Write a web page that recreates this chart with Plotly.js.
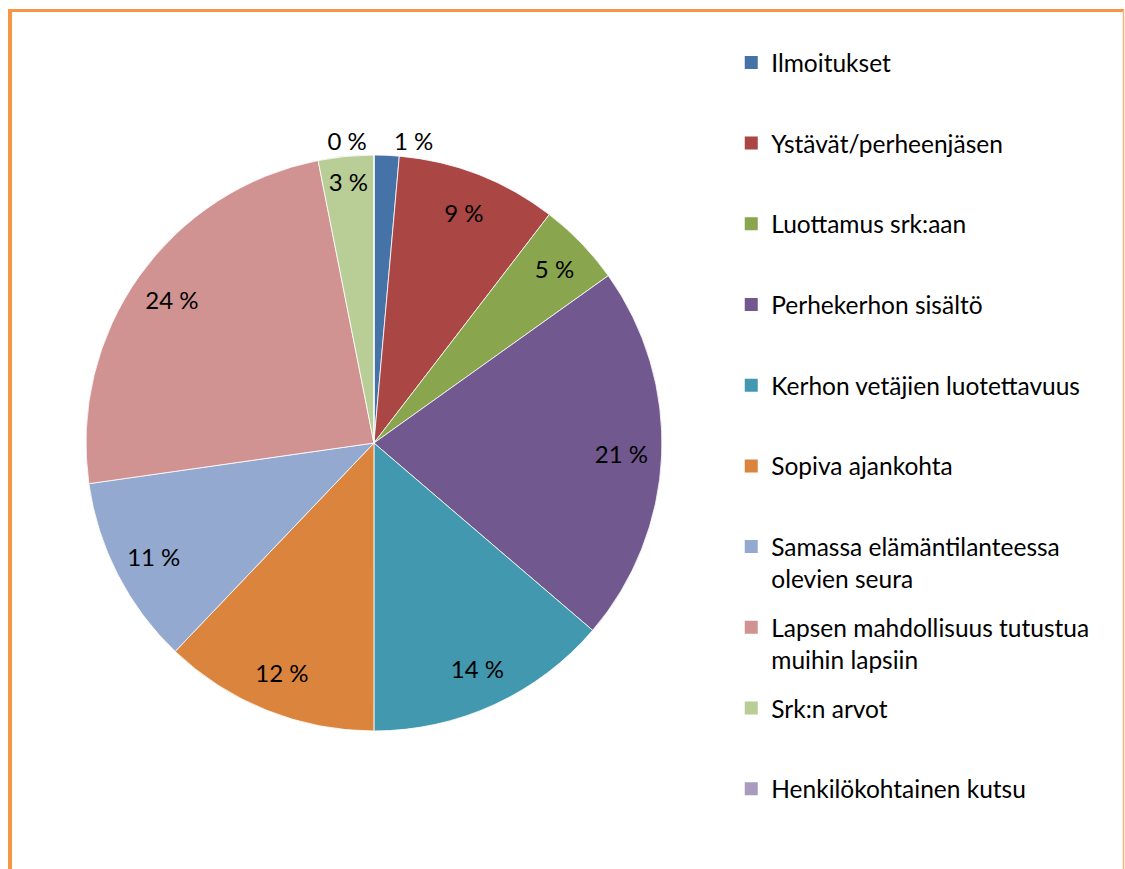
<!DOCTYPE html>
<html>
<head>
<meta charset="utf-8">
<script src="https://cdn.plot.ly/plotly-3.0.1.min.js"></script>
<style>html,body{margin:0;padding:0;background:#fff;}#chart{width:1125px;height:869px;}</style>
</head>
<body>
<div id="chart"></div>
<script>
const categories = [
  "Ilmoitukset",
  "Ystävät/perheenjäsen",
  "Luottamus srk:aan",
  "Perhekerhon sisältö",
  "Kerhon vetäjien luotettavuus",
  "Sopiva ajankohta",
  "Samassa elämäntilanteessa<br>olevien seura",
  "Lapsen mahdollisuus tutustua<br>muihin lapsiin",
  "Srk:n arvot",
  "Henkilökohtainen kutsu"
];
const shares = [1.4, 9.0, 4.7, 21.1, 13.7, 12.1, 10.6, 24.1, 3.1, 0];
const colors = ["#4572A7","#AA4643","#89A54E","#71588F","#4198AF","#DB843D","#93A9CF","#D19392","#B9CD96","#A99BBD"];

const total = shares.reduce((a,b)=>a+b,0);
const pctText = shares.map(v => Math.round(v/total*100) + " %");
const positions = shares.map(v => (v/total < 0.02) ? "outside" : "inside");

const FONT = "Lato, 'Open Sans', sans-serif";
const DOMAIN = {x: [0.0764, 0.5884], y: [0.1588, 0.8216]};

const traces = [
  // coloured slices
  {
    type: "pie",
    labels: categories,
    values: shares,
    textinfo: "none",
    sort: false,
    direction: "clockwise",
    rotation: 0,
    marker: {colors: colors, line: {color: "rgba(255,255,255,0.8)", width: 1}},
    showlegend: false,
    domain: DOMAIN,
    hoverinfo: "label+percent"
  },
  // transparent ring that carries the percentage labels near the rim
  {
    type: "pie",
    labels: categories,
    values: shares,
    text: pctText,
    textinfo: "text",
    textposition: positions,
    insidetextorientation: "horizontal",
    hole: 0.72,
    sort: false,
    direction: "clockwise",
    rotation: 0,
    marker: {colors: shares.map(() => "rgba(0,0,0,0)"), line: {width: 0}},
    insidetextfont: {family: FONT, size: 24, color: "#000"},
    outsidetextfont: {family: FONT, size: 24, color: "#000"},
    textfont: {family: FONT, size: 24, color: "#000"},
    showlegend: false,
    domain: DOMAIN,
    hoverinfo: "skip"
  }
];

categories.forEach((c, i) => {
  const lines = c.split("<br>").length;
  traces.push({
    type: "scatter",
    x: [null], y: [null],
    mode: "markers",
    name: lines > 1 ? c : c + "<br> ",
    legendgroup: "g" + i,
    marker: {symbol: "square", size: 13, color: colors[i]},
    showlegend: true,
    hoverinfo: "skip"
  });
});

const layout = {
  width: 1125, height: 869,
  margin: {l: 0, r: 0, t: 0, b: 0},
  paper_bgcolor: "#fff",
  plot_bgcolor: "#fff",
  font: {family: FONT, size: 24, color: "#000"},
  xaxis: {visible: false, domain: [0.99, 1]},
  yaxis: {visible: false, domain: [0.99, 1]},
  showlegend: true,
  legend: {
    x: 0.65, xanchor: "left",
    y: 0.954, yanchor: "top",
    traceorder: "grouped",
    tracegroupgap: 14,
    valign: "top",
    font: {family: FONT, size: 24.5, color: "#000"},
    bgcolor: "rgba(0,0,0,0)"
  },
  shapes: [
    {type: "line", xref: "paper", yref: "paper", x0: 10/1125, x1: 10/1125, y0: 0, y1: 1 - 9/869, line: {color: "#F79646", width: 4}},
    {type: "line", xref: "paper", yref: "paper", x0: 8/1125, x1: 1124/1125, y0: 1 - 10.5/869, y1: 1 - 10.5/869, line: {color: "#F79646", width: 3}},
    {type: "line", xref: "paper", yref: "paper", x0: 1123.5/1125, x1: 1123.5/1125, y0: 0, y1: 1 - 10/869, line: {color: "#F9B37A", width: 1.5}}
  ]
};

Plotly.newPlot("chart", traces, layout, {displayModeBar: false, staticPlot: true});
</script>
</body>
</html>
